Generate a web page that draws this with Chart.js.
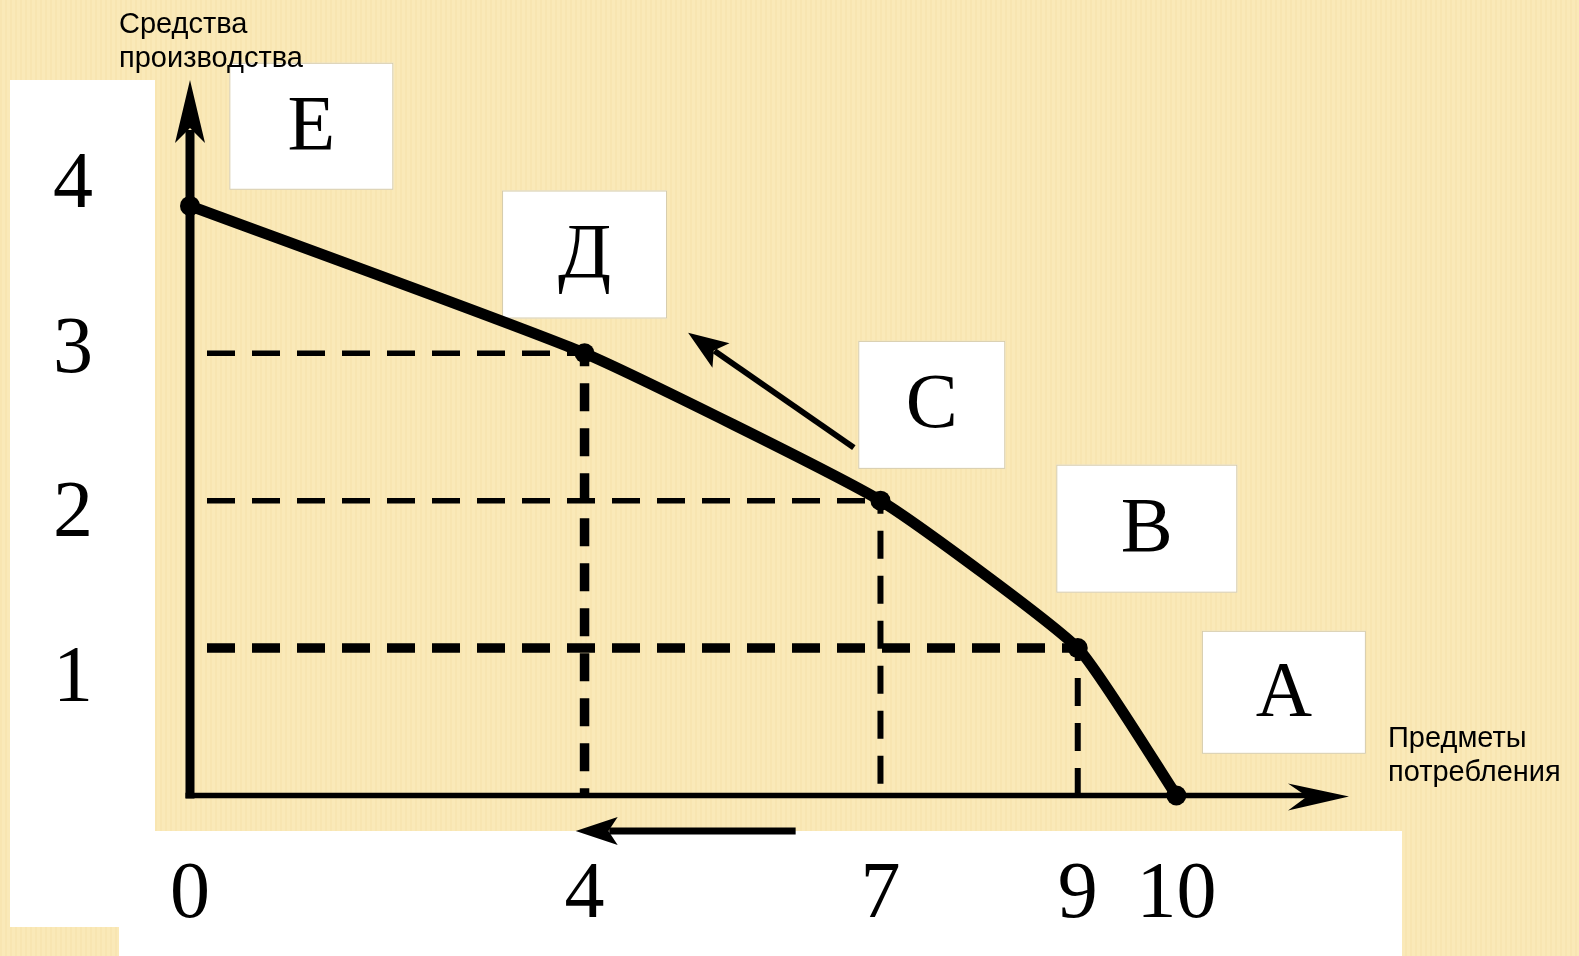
<!DOCTYPE html>
<html>
<head>
<meta charset="utf-8">
<script src="https://cdn.jsdelivr.net/npm/chart.js@4/dist/chart.umd.min.js"></script>
<style>
  html, body { margin: 0; padding: 0; background: #FAE9B8; overflow: hidden; }
  #wrap { width: 1579px; height: 956px; position: relative; }
</style>
</head>
<body>
<div id="wrap"><canvas id="c" width="1579" height="956"></canvas></div>
<script>
// ---------- data ----------
const consumerGoods = [0, 4, 7, 9, 10];      // Предметы потребления
const capitalGoods  = [4, 3, 2, 1, 0];       // Средства производства
const pointNames    = ['E', 'Д', 'C', 'B', 'A'];
const xTickValues   = [0, 4, 7, 9, 10];
const yTickValues   = [1, 2, 3, 4];
const yAxisTitle    = ['Средства', 'производства'];
const xAxisTitle    = ['Предметы', 'потребления'];

// ---------- layout / style (not data) ----------
const BG = '#FAE9B8';
const layoutCfg = {
  // label boxes: centre in data units, size in px
  boxes: [
    { x: 1.23,  y: 4.54, w: 164, h: 127 },
    { x: 4.00,  y: 3.67, w: 165, h: 128 },
    { x: 7.52,  y: 2.65, w: 147, h: 128 },
    { x: 9.70,  y: 1.81, w: 181, h: 128 },
    { x: 11.09, y: 0.70, w: 164, h: 123 }
  ],
  shiftArrow: { from: [6.73, 2.36], to: [5.05, 3.14], width: 6, head: 40, half: 15 },
  axisArrow:  { from: [6.14, -0.24], to: [3.91, -0.24], width: 7, head: 42, half: 14 },
  guideH: [5.5, 5.5, 9.5],
  guideV: [9.5, 6, 6]
};

const datasets = [];
datasets.push({
  label: 'frontier',
  data: consumerGoods.map((x, i) => ({ x: x, y: capitalGoods[i] })),
  borderColor: '#000',
  backgroundColor: '#000',
  borderWidth: 11,
  borderCapStyle: 'round',
  borderJoinStyle: 'round',
  tension: 0.15,
  pointRadius: 10,
  pointBackgroundColor: '#000',
  pointBorderWidth: 0,
  clip: false,
  order: 0
});
const guideIdx = consumerGoods.map((_, i) => i).filter(i => consumerGoods[i] > 0 && capitalGoods[i] > 0);
guideIdx.forEach((i, k) => {
  datasets.push({
    data: [{ x: 0, y: capitalGoods[i] }, { x: consumerGoods[i], y: capitalGoods[i] }],
    borderColor: '#000', borderWidth: layoutCfg.guideH[k],
    borderDash: [28, 17], borderDashOffset: 28, borderCapStyle: 'butt',
    pointRadius: 0, order: 2
  });
  datasets.push({
    data: [{ x: consumerGoods[i], y: capitalGoods[i] }, { x: consumerGoods[i], y: 0 }],
    borderColor: '#000', borderWidth: layoutCfg.guideV[k],
    borderDash: [28, 17], borderDashOffset: 15, borderCapStyle: 'butt',
    pointRadius: 0, order: 2
  });
});

function drawArrow(ctx, x1, y1, x2, y2, w, head, half) {
  const dx = x2 - x1, dy = y2 - y1, L = Math.hypot(dx, dy);
  const ux = dx / L, uy = dy / L, nx = -uy, ny = ux;
  ctx.lineWidth = w;
  ctx.lineCap = 'butt';
  ctx.beginPath();
  ctx.moveTo(x1, y1);
  ctx.lineTo(x2 - ux * head * 0.8, y2 - uy * head * 0.8);
  ctx.stroke();
  ctx.beginPath();
  ctx.moveTo(x2, y2);
  ctx.lineTo(x2 - ux * head + nx * half, y2 - uy * head + ny * half);
  ctx.lineTo(x2 - ux * head * 0.78, y2 - uy * head * 0.78);
  ctx.lineTo(x2 - ux * head - nx * half, y2 - uy * head - ny * half);
  ctx.closePath();
  ctx.fill();
}

const deco = {
  id: 'deco',
  beforeDraw(chart) {
    const { ctx, width, height } = chart;
    ctx.save();
    ctx.fillStyle = BG;
    ctx.fillRect(0, 0, width, height);
    ctx.fillStyle = 'rgba(236,208,150,0.18)';
    for (let x = 0; x < width; x += 5) ctx.fillRect(x, 0, 2, height);
    ctx.fillStyle = '#ffffff';
    ctx.fillRect(10, 80, 145, 847);
    ctx.fillRect(119, 831, 1283, 125);
    ctx.restore();
  },
  beforeDatasetsDraw(chart) {
    const { ctx, chartArea } = chart;
    const xs = chart.scales.x, ys = chart.scales.y;
    const x0 = xs.getPixelForValue(0), y0 = ys.getPixelForValue(0);
    ctx.save();
    ctx.fillStyle = '#000';
    ctx.strokeStyle = '#000';
    // y axis with arrow
    ctx.lineWidth = 9;
    ctx.beginPath();
    ctx.moveTo(x0, y0 + 3);
    ctx.lineTo(x0, chartArea.top + 50);
    ctx.stroke();
    ctx.beginPath();
    ctx.moveTo(x0, chartArea.top);
    ctx.lineTo(x0 + 15, chartArea.top + 63);
    ctx.lineTo(x0, chartArea.top + 48);
    ctx.lineTo(x0 - 15, chartArea.top + 63);
    ctx.closePath();
    ctx.fill();
    // x axis with arrow
    ctx.lineWidth = 5.5;
    ctx.beginPath();
    ctx.moveTo(x0 - 4.5, y0);
    ctx.lineTo(chartArea.right - 40, y0);
    ctx.stroke();
    const r = chartArea.right;
    ctx.beginPath();
    ctx.moveTo(r, y0 + 1);
    ctx.lineTo(r - 61, y0 - 12);
    ctx.lineTo(r - 42, y0 + 1);
    ctx.lineTo(r - 61, y0 + 15);
    ctx.closePath();
    ctx.fill();
    // label boxes
    layoutCfg.boxes.forEach((b, i) => {
      const cx = xs.getPixelForValue(b.x), cy = ys.getPixelForValue(b.y);
      ctx.fillStyle = '#ffffff';
      ctx.fillRect(cx - b.w / 2, cy - b.h / 2, b.w, b.h);
      ctx.strokeStyle = '#d6cba9';
      ctx.lineWidth = 1;
      ctx.strokeRect(cx - b.w / 2 + 0.5, cy - b.h / 2 + 0.5, b.w - 1, b.h - 1);
      ctx.fillStyle = '#000';
      ctx.font = '78px "Liberation Serif", "Times New Roman", serif';
      ctx.textAlign = 'center';
      ctx.textBaseline = 'middle';
      ctx.fillText(pointNames[i], cx, cy + 2);
    });
    ctx.restore();
  },
  afterDatasetsDraw(chart) {
    const { ctx } = chart;
    const xs = chart.scales.x, ys = chart.scales.y;
    ctx.save();
    ctx.fillStyle = '#000';
    ctx.strokeStyle = '#000';
    [layoutCfg.shiftArrow, layoutCfg.axisArrow].forEach(a => {
      drawArrow(ctx,
        xs.getPixelForValue(a.from[0]), ys.getPixelForValue(a.from[1]),
        xs.getPixelForValue(a.to[0]), ys.getPixelForValue(a.to[1]),
        a.width, a.head, a.half);
    });
    ctx.restore();
  },
  afterDraw(chart) {
    const { ctx } = chart;
    ctx.save();
    ctx.fillStyle = '#000';
    ctx.font = '29px "Liberation Sans", Arial, sans-serif';
    ctx.textAlign = 'left';
    ctx.textBaseline = 'alphabetic';
    ctx.fillText(yAxisTitle[0], 119, 33);
    ctx.fillText(yAxisTitle[1], 119, 67);
    ctx.fillText(xAxisTitle[0], 1388, 747);
    ctx.fillText(xAxisTitle[1], 1388, 781);
    ctx.restore();
  }
};

new Chart(document.getElementById('c'), {
  type: 'line',
  data: { datasets: datasets },
  plugins: [deco],
  options: {
    responsive: false,
    animation: false,
    events: [],
    layout: { autoPadding: false, padding: { top: 80, right: 230, left: 0, bottom: 0 } },
    plugins: { legend: { display: false }, tooltip: { enabled: false }, title: { display: false } },
    scales: {
      x: {
        type: 'linear', position: 'bottom', min: 0, max: 11.75,
        afterBuildTicks: s => { s.ticks = xTickValues.map(v => ({ value: v })); },
        afterFit: s => { s.height = 160.5; s.paddingLeft = 0; s.paddingRight = 0; s.paddingTop = 0; s.paddingBottom = 0; },
        grid: { display: false, drawTicks: false, tickLength: 0 },
        border: { display: false },
        ticks: {
          autoSkip: false, maxRotation: 0, padding: 52, color: '#000',
          font: { family: '"Liberation Serif", "Times New Roman", serif', size: 80 },
          callback: v => String(v)
        }
      },
      y: { type: 'linear', min: 0, max: 4.854, display: false },
      yLab: {
        axis: 'y', type: 'linear', position: 'left', min: 0.299, max: 4.643,
        afterBuildTicks: s => { s.ticks = yTickValues.map(v => ({ value: v })); },
        afterFit: s => { s.width = 190; s.paddingLeft = 0; s.paddingRight = 0; s.paddingTop = 0; s.paddingBottom = 0; },
        grid: { display: false, drawTicks: false, tickLength: 0 },
        border: { display: false },
        ticks: {
          autoSkip: false, padding: 97, color: '#000',
          font: { family: '"Liberation Serif", "Times New Roman", serif', size: 80 },
          callback: v => String(v)
        }
      }
    }
  }
});
</script>
</body>
</html>
